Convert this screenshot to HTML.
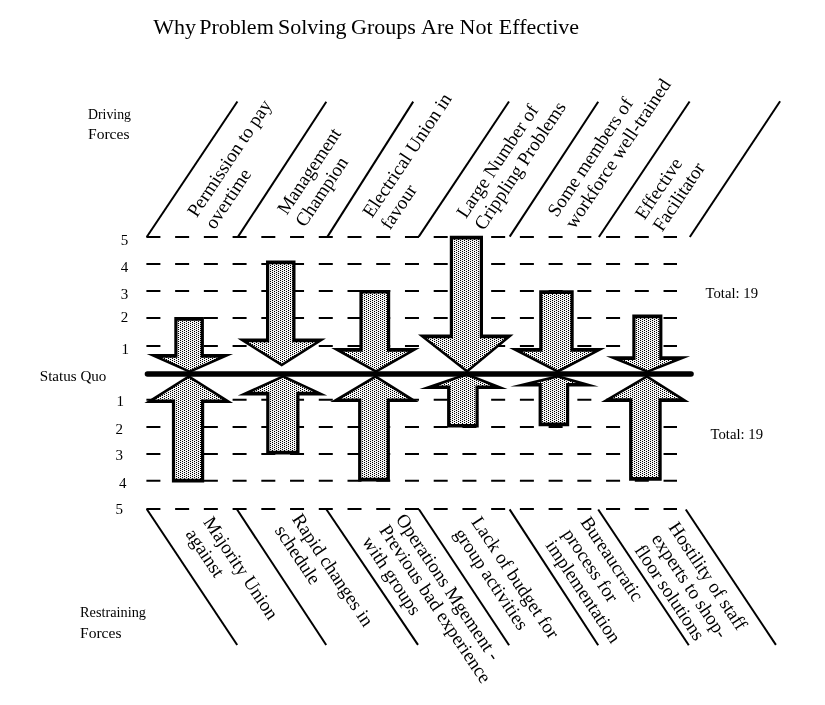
<!DOCTYPE html><html><head><meta charset="utf-8"><style>html,body{margin:0;padding:0;background:#fff;width:825px;height:705px;overflow:hidden}svg{display:block}text{font-family:"Liberation Serif",serif;fill:#000}</style></head><body>
<svg style="will-change:transform" width="825" height="705" viewBox="0 0 825 705">
<defs><pattern id="dots" patternUnits="userSpaceOnUse" width="4" height="2"><rect width="4" height="2" fill="#f4f4f4"/><rect x="0" y="0" width="1" height="1" fill="#000"/><rect x="2" y="1" width="1" height="1" fill="#000"/></pattern></defs>
<text x="153.3" y="33.7" font-size="22">Why</text>
<text x="199.2" y="33.7" font-size="22">Problem</text>
<text x="278" y="33.7" font-size="22">Solving</text>
<text x="351" y="33.7" font-size="22">Groups</text>
<text x="421" y="33.7" font-size="22">Are</text>
<text x="459.6" y="33.7" font-size="22">Not</text>
<text x="498.8" y="33.7" font-size="22">Effective</text>
<text x="88" y="118.8" font-size="15" textLength="43" lengthAdjust="spacingAndGlyphs">Driving</text>
<text x="88" y="138.9" font-size="15" textLength="41.5" lengthAdjust="spacingAndGlyphs">Forces</text>
<text x="80" y="616.8" font-size="15" textLength="66" lengthAdjust="spacingAndGlyphs">Restraining</text>
<text x="80" y="637.5" font-size="15" textLength="41.5" lengthAdjust="spacingAndGlyphs">Forces</text>
<text x="39.8" y="380.6" font-size="15" textLength="66.6" lengthAdjust="spacingAndGlyphs">Status Quo</text>
<text x="705.5" y="298.4" font-size="15" textLength="52.5" lengthAdjust="spacingAndGlyphs">Total: 19</text>
<text x="710.5" y="439.4" font-size="15" textLength="52.5" lengthAdjust="spacingAndGlyphs">Total: 19</text>
<text x="120.7" y="244.6" font-size="15">5</text>
<text x="120.7" y="272" font-size="15">4</text>
<text x="120.7" y="298.8" font-size="15">3</text>
<text x="120.7" y="321.8" font-size="15">2</text>
<text x="121.6" y="353.5" font-size="15">1</text>
<text x="116.5" y="405.5" font-size="15">1</text>
<text x="115.5" y="433.6" font-size="15">2</text>
<text x="115.5" y="460.4" font-size="15">3</text>
<text x="118.9" y="487.8" font-size="15">4</text>
<text x="115.5" y="514" font-size="15">5</text>
<line x1="146.4" y1="236.9" x2="677" y2="236.9" stroke="#000" stroke-width="2" stroke-dasharray="14 14.73"/>
<line x1="146.4" y1="263.9" x2="677" y2="263.9" stroke="#000" stroke-width="2" stroke-dasharray="14 14.73"/>
<line x1="146.4" y1="291.0" x2="677" y2="291.0" stroke="#000" stroke-width="2" stroke-dasharray="14 14.73"/>
<line x1="146.4" y1="318.0" x2="677" y2="318.0" stroke="#000" stroke-width="2" stroke-dasharray="14 14.73"/>
<line x1="146.4" y1="346.0" x2="677" y2="346.0" stroke="#000" stroke-width="2" stroke-dasharray="14 14.73"/>
<line x1="146.4" y1="399.8" x2="677" y2="399.8" stroke="#000" stroke-width="2" stroke-dasharray="14 14.73"/>
<line x1="146.4" y1="427.0" x2="677" y2="427.0" stroke="#000" stroke-width="2" stroke-dasharray="14 14.73"/>
<line x1="146.4" y1="453.9" x2="677" y2="453.9" stroke="#000" stroke-width="2" stroke-dasharray="14 14.73"/>
<line x1="146.4" y1="480.8" x2="677" y2="480.8" stroke="#000" stroke-width="2" stroke-dasharray="14 14.73"/>
<line x1="146.4" y1="509.0" x2="677" y2="509.0" stroke="#000" stroke-width="2" stroke-dasharray="14 14.73"/>
<line x1="146.7" y1="237" x2="237.4" y2="101.5" stroke="#000" stroke-width="2"/>
<line x1="238.1" y1="236.6" x2="326.3" y2="101.8" stroke="#000" stroke-width="2"/>
<line x1="327.5" y1="236.6" x2="413.2" y2="101.6" stroke="#000" stroke-width="2"/>
<line x1="418.8" y1="236.6" x2="509.0" y2="101.5" stroke="#000" stroke-width="2"/>
<line x1="509.7" y1="236.6" x2="598.2" y2="101.8" stroke="#000" stroke-width="2"/>
<line x1="598.9" y1="237" x2="689.6" y2="101.5" stroke="#000" stroke-width="2"/>
<line x1="689.8" y1="237" x2="780.1" y2="101.3" stroke="#000" stroke-width="2"/>
<line x1="146.7" y1="509" x2="237.2" y2="645" stroke="#000" stroke-width="2"/>
<line x1="236.9" y1="509.3" x2="326.2" y2="645" stroke="#000" stroke-width="2"/>
<line x1="326.3" y1="509.2" x2="418.0" y2="644.9" stroke="#000" stroke-width="2"/>
<line x1="418.9" y1="509.3" x2="509.1" y2="645.2" stroke="#000" stroke-width="2"/>
<line x1="509.6" y1="509.4" x2="598.2" y2="645.2" stroke="#000" stroke-width="2"/>
<line x1="598.2" y1="509.5" x2="688.8" y2="645.2" stroke="#000" stroke-width="2"/>
<line x1="685.8" y1="509.5" x2="775.9" y2="644.9" stroke="#000" stroke-width="2"/>
<polygon points="174.30,317.10 203.90,317.10 203.90,354.10 233.10,354.10 189.70,373.00 146.70,354.10 174.30,354.10" fill="#000"/>
<polygon points="177.50,320.80 200.70,320.80 200.70,357.80 218.09,357.80 189.70,370.16 161.58,357.80 177.50,357.80" fill="url(#dots)"/>
<polygon points="188.80,375.00 233.10,403.10 204.20,403.10 204.20,482.40 171.90,482.40 171.90,403.10 144.40,403.10" fill="#000"/>
<polygon points="188.80,378.08 222.41,399.40 201.00,399.40 201.00,478.70 175.10,478.70 175.10,399.40 155.11,399.40" fill="url(#dots)"/>
<polygon points="266.00,260.50 295.50,260.50 295.50,338.60 325.90,338.60 281.70,366.60 237.40,338.60 266.00,338.60" fill="#000"/>
<polygon points="269.20,264.20 292.30,264.20 292.30,342.30 315.20,342.30 281.70,363.52 248.12,342.30 269.20,342.30" fill="url(#dots)"/>
<polygon points="283.20,375.00 327.20,395.50 299.50,395.50 299.50,454.40 266.20,454.40 266.20,395.50 237.80,395.50" fill="#000"/>
<polygon points="283.18,377.86 313.10,391.80 296.30,391.80 296.30,450.70 269.40,450.70 269.40,391.80 252.31,391.80" fill="url(#dots)"/>
<polygon points="359.40,289.90 390.20,289.90 390.20,348.10 419.80,348.10 376.00,373.00 331.20,348.10 359.40,348.10" fill="#000"/>
<polygon points="362.60,293.60 387.00,293.60 387.00,351.80 408.03,351.80 375.99,370.02 343.21,351.80 362.60,351.80" fill="url(#dots)"/>
<polygon points="375.60,375.00 418.70,402.10 389.90,402.10 389.90,481.50 358.10,481.50 358.10,402.10 330.20,402.10" fill="#000"/>
<polygon points="375.56,378.05 407.93,398.40 386.70,398.40 386.70,477.80 361.30,477.80 361.30,398.40 341.47,398.40" fill="url(#dots)"/>
<polygon points="449.80,235.80 483.00,235.80 483.00,334.60 513.60,334.60 467.10,373.00 418.00,334.60 449.80,334.60" fill="#000"/>
<polygon points="453.00,239.50 479.80,239.50 479.80,338.30 505.04,338.30 467.06,369.66 426.95,338.30 453.00,338.30" fill="url(#dots)"/>
<polygon points="466.50,373.00 507.50,389.10 478.70,389.10 478.70,427.60 447.10,427.60 447.10,389.10 419.50,389.10" fill="#000"/>
<polygon points="466.44,375.77 490.96,385.40 475.50,385.40 475.50,423.90 450.30,423.90 450.30,385.40 438.32,385.40" fill="url(#dots)"/>
<polygon points="539.20,290.20 573.70,290.20 573.70,348.10 605.50,348.10 557.80,373.00 509.10,348.10 539.20,348.10" fill="#000"/>
<polygon points="542.40,293.90 570.50,293.90 570.50,351.80 592.79,351.80 557.79,370.07 522.05,351.80 542.40,351.80" fill="url(#dots)"/>
<polygon points="557.80,375.00 598.70,386.60 569.20,386.60 569.20,426.30 538.60,426.30 538.60,386.60 510.20,386.60" fill="#000"/>
<polygon points="557.75,377.69 576.13,382.90 566.00,382.90 566.00,422.60 541.80,422.60 541.80,382.90 536.36,382.90" fill="url(#dots)"/>
<polygon points="632.30,314.60 662.40,314.60 662.40,356.30 690.10,356.30 647.50,373.00 606.00,356.30 632.30,356.30" fill="#000"/>
<polygon points="635.50,318.30 659.20,318.30 659.20,360.00 673.54,360.00 647.51,370.20 622.16,360.00 635.50,360.00" fill="url(#dots)"/>
<polygon points="646.90,375.00 689.50,402.00 661.70,402.00 661.70,480.70 629.10,480.70 629.10,402.00 601.00,402.00" fill="#000"/>
<polygon points="646.85,378.05 678.81,398.30 658.50,398.30 658.50,477.00 632.30,477.00 632.30,398.30 612.42,398.30" fill="url(#dots)"/>
<line x1="147.5" y1="374" x2="691" y2="374" stroke="#000" stroke-width="5.6" stroke-linecap="round"/>
<g transform="rotate(-56.27)"><text x="-72.3" y="284.8" font-size="19">Permission to pay</text><text x="-72.3" y="306.2" font-size="19">overtime</text></g>
<g transform="rotate(-56.27)"><text x="-20.3" y="358.3" font-size="19">Management</text><text x="-20.3" y="380.1" font-size="19">Champion</text></g>
<g transform="rotate(-56.27)"><text x="24.6" y="431.0" font-size="19">Electrical Union in</text><text x="24.6" y="452.6" font-size="19">favour</text></g>
<g transform="rotate(-56.27)"><text x="76.3" y="509.3" font-size="19">Large Number of</text><text x="76.3" y="530.6" font-size="19">Crippling Problems</text></g>
<g transform="rotate(-56.27)"><text x="128.0" y="584.3" font-size="19">Some members of</text><text x="128.0" y="605.3" font-size="19">workforce well-trained</text></g>
<g transform="rotate(-56.27)"><text x="174.3" y="658.6" font-size="19">Effective</text><text x="174.3" y="679.9" font-size="19">Facilitator</text></g>
<g transform="rotate(56.27)"><text x="546.8" y="121.2" font-size="19">Majority Union</text><text x="546.8" y="142.7" font-size="19">against</text></g>
<g transform="rotate(56.27)"><text x="593.5" y="45.9" font-size="19">Rapid changes in</text><text x="593.5" y="66.6" font-size="19">schedule</text></g>
<g transform="rotate(56.27)"><text x="651.2" y="-40.5" font-size="19">Operations Mgement -</text><text x="651.2" y="-20.5" font-size="19">Previous bad experience</text><text x="651.2" y="0" font-size="19">with groups</text></g>
<g transform="rotate(56.27)"><text x="695.5" y="-101.8" font-size="19">Lack of budget for</text><text x="695.5" y="-81.0" font-size="19">group activities</text></g>
<g transform="rotate(56.27)"><text x="756.2" y="-192.5" font-size="19">Bureaucratic</text><text x="756.2" y="-171.0" font-size="19">process for</text><text x="756.2" y="-150.5" font-size="19">implementation</text></g>
<g transform="rotate(56.27)"><text x="809.5" y="-262.7" font-size="19">Hostility of staff</text><text x="809.5" y="-242.2" font-size="19">experts to shop-</text><text x="809.5" y="-221.8" font-size="19">floor solutions</text></g>
</svg></body></html>
